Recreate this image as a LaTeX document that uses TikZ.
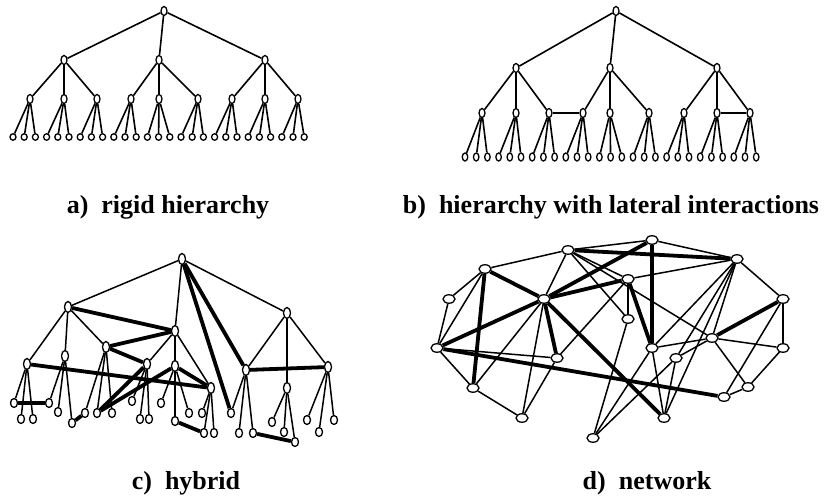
\documentclass[tikz,border=0pt]{standalone}
\usepackage{fontspec}
\setmainfont{Liberation Serif}
\usetikzlibrary{shapes.geometric}
\begin{document}
\begin{tikzpicture}[x=1pt,y=-1pt,
  nd/.style={ellipse,draw,fill=white,line width=1.3pt,inner sep=0pt,minimum width=6pt,minimum height=9pt},
  lf/.style={ellipse,draw,fill=white,line width=1.3pt,inner sep=0pt,minimum width=6pt,minimum height=6.5pt},
  cnd/.style={ellipse,draw,fill=white,line width=1.3pt,inner sep=0pt,minimum width=7pt,minimum height=11pt},
  clf/.style={ellipse,draw,fill=white,line width=1.3pt,inner sep=0pt,minimum width=7pt,minimum height=9pt},
  dnd/.style={ellipse,draw,fill=white,line width=1.3pt,inner sep=0pt,minimum width=12pt,minimum height=8.5pt},
  tree/.style={line width=1.6pt},
  thin/.style={line width=1.5pt},
  thick/.style={line width=3.8pt},
  lab/.style={anchor=base,font=\fontsize{26}{30}\selectfont\bfseries,inner sep=0pt}]
\useasboundingbox (0,0) rectangle (826,499);

% ---------- a) rigid hierarchy ----------
\node[nd] (a) at (164,11) {};
\foreach \i/\x in {1/64,2/159,3/265}{
  \node[nd] (a\i) at (\x,60) {};
  \draw[tree] (a) -- (a\i);
}
\foreach \i/\j/\x [count=\g from 0] in {1/1/30,1/2/64,1/3/97,2/1/131,2/2/159,2/3/198,3/1/232,3/2/265,3/3/298}{
  \node[nd] (a\i\j) at (\x,99) {};
  \draw[tree] (a\i) -- (a\i\j);
  \foreach \k in {0,1,2}{
    \pgfmathsetmacro{\lx}{13+11.2*(3*\g+\k)}
    \node[lf] (a\i\j\k) at (\lx,137) {};
    \draw[tree] (a\i\j) -- (a\i\j\k);
  }
}

% ---------- b) hierarchy with lateral interactions ----------
\node[nd] (b) at (616,11) {};
\foreach \i/\x in {1/516,2/610,3/717}{
  \node[nd] (b\i) at (\x,68) {};
  \draw[tree] (b) -- (b\i);
}
\foreach \i/\j/\x [count=\g from 0] in {1/1/482,1/2/516,1/3/549,2/1/583,2/2/610,2/3/649,3/1/684,3/2/717,3/3/750}{
  \node[nd] (b\i\j) at (\x,113) {};
  \draw[tree] (b\i) -- (b\i\j);
  \foreach \k in {0,1,2}{
    \pgfmathsetmacro{\lx}{465+11.2*(3*\g+\k)}
    \node[lf,minimum width=5.5pt,minimum height=8pt] (b\i\j\k) at (\lx,157) {};
    \draw[tree] (b\i\j) -- (b\i\j\k);
  }
}
\draw[tree] (b13) -- (b21);
\draw[tree] (b32) -- (b33);

% ---------- c) hybrid ----------
\node[cnd] (c) at (182,259) {};
\node[cnd] (cA) at (68,307) {};
\node[cnd] (cB) at (175,331) {};
\node[cnd] (cC) at (287,313) {};
\node[cnd] (cK) at (27,364) {};
\node[cnd] (cJ) at (65,356) {};
\node[cnd] (cI) at (106,347) {};
\node[cnd] (cL) at (147,364) {};
\node[cnd] (cG) at (175,366) {};
\node[cnd] (cH) at (211,388) {};
\node[cnd] (cD) at (246,370) {};
\node[cnd] (cF) at (287,388) {};
\node[cnd] (cE) at (328,367) {};
\foreach \p/\ax/\ay/\bx/\by/\cx/\cy in {K/14/403/21/419/33/419, J/49/403/58/412/72/423,
  I/85/413/97/413/112/413, L/132/401/140/419/149/419, G/161/403/175/421/189/413,
  H/202/413/204/433/214/433, D/231/413/239/433/253/433, F/272/422/284/432/295/442,
  E/307/420/319/432/334/420}{
  \node[clf] (c\p1) at (\ax,\ay) {};
  \node[clf] (c\p2) at (\bx,\by) {};
  \node[clf] (c\p3) at (\cx,\cy) {};
  \foreach \k in {1,2,3} \draw[thin] (c\p) -- (c\p\k);
}
\foreach \u/\v in {c/cA,c/cB,c/cC,cA/cK,cA/cJ,cA/cI,cB/cL,cB/cG,cB/cH,cC/cD,cC/cF,cC/cE}
  \draw[thin] (\u) -- (\v);
\foreach \u/\v in {cA/cB,cI/cB,cI/cL,cK/cH,cI2/cL,cI2/cG,cG/cH,c/cD,c/cD1,cD/cE,
  cK1/cJ1,cJ3/cI1,cG2/cH2,cD3/cF3}
  \draw[thick] (\u) -- (\v);

% ---------- d) network ----------
\foreach \n/\x/\y in {1/568/250, 2/485/269, 3/449/299, 4/544/299, 5/437/348, 6/557/358,
  7/473/388, 8/522/418, 9/593/438, 10/652/240, 11/737/259, 12/628/279, 13/783/299,
  14/628/319, 15/712/338, 16/652/348, 17/783/348, 18/676/358, 19/748/387, 20/724/397,
  21/664/418}
  \node[dnd] (d\n) at (\x,\y) {};
\foreach \u/\v in {2/1,2/3,2/5,3/5,5/6,5/7,7/8,7/4,4/8,4/1,6/12,8/6,1/10,1/12,1/15,1/14,
  10/11,12/11,12/14,14/9,9/16,9/18,16/11,16/15,16/21,18/15,18/21,18/11,21/11,11/15,11/13,
  13/17,15/17,15/19,17/19,13/20,19/20}
  \draw[thin] (d\u) -- (d\v);
\foreach \u/\v in {2/4,2/7,5/4,5/20,4/6,4/21,4/10,4/12,1/11,10/16,12/16,15/13}
  \draw[thick] (d\u) -- (d\v);

% ---------- captions ----------
\node[lab] (la) at (168,213) {a)\hspace{.5em}rigid hierarchy};
\node[lab] (lb) at (611,213) {b)\hspace{.5em}hierarchy with lateral interactions};
\node[lab] (lc) at (186,489) {c)\hspace{.5em}hybrid};
\node[lab] (ld) at (647,489) {d)\hspace{.5em}network};
\end{tikzpicture}
\end{document}
